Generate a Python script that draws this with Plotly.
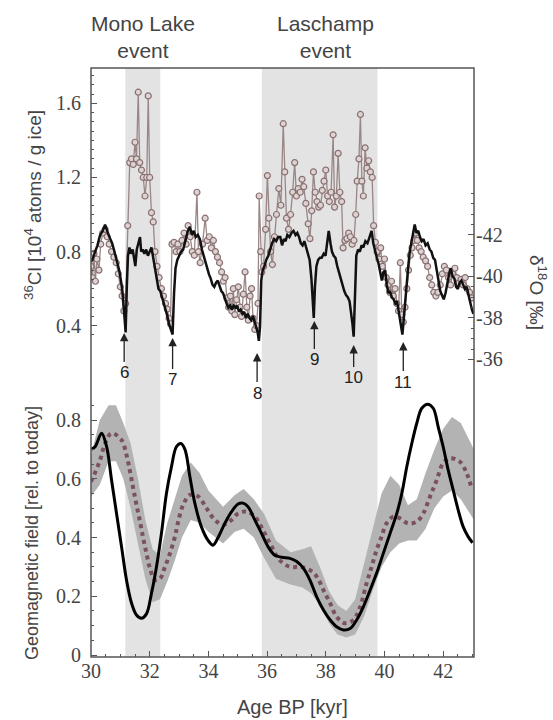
import plotly.graph_objects as go

# ---------------- data ----------------
# 36Cl flux (upper panel, left axis)
cl_age = [30.00,30.05,30.10,30.15,30.20,30.27,30.33,30.40,30.48,30.55,30.62,30.70,30.78,30.86,30.93,31.00,31.06,31.12,31.18,
          31.25,31.32,31.38,31.44,31.50,31.55,31.61,31.66,31.72,31.78,31.84,31.90,31.95,32.00,32.06,32.12,32.18,32.25,32.32,
          32.40,32.47,32.54,32.60,32.66,32.71,32.76,32.83,32.90,32.96,33.03,33.10,33.17,33.24,33.31,33.38,33.45,33.52,33.61,
          33.66,33.72,33.80,33.89,33.96,34.03,34.10,34.17,34.24,34.31,34.38,34.45,34.51,34.57,34.63,34.69,34.75,34.80,34.85,
          34.90,34.96,35.02,35.08,35.13,35.19,35.25,35.31,35.36,35.42,35.47,35.52,35.58,35.64,35.69,35.73,35.78,35.82,35.88,
          35.95,36.01,36.06,36.12,36.18,36.25,36.32,36.40,36.47,36.55,36.60,36.66,36.73,36.80,36.87,36.94,37.00,37.06,37.13,
          37.19,37.25,37.32,37.40,37.46,37.52,37.58,37.64,37.70,37.76,37.82,37.88,37.94,38.00,38.06,38.12,38.18,38.25,38.30,
          38.36,38.42,38.48,38.54,38.59,38.65,38.72,38.78,38.84,38.90,38.96,39.02,39.07,39.13,39.18,39.23,39.28,39.34,39.40,
          39.46,39.52,39.58,39.63,39.69,39.75,39.81,39.87,39.93,40.00,40.06,40.12,40.18,40.24,40.30,40.36,40.42,40.48,40.54,
          40.59,40.64,40.70,40.76,40.82,40.88,40.94,41.00,41.06,41.12,41.18,41.25,41.32,41.40,41.47,41.54,41.61,41.68,41.75,
          41.82,41.90,41.97,42.04,42.11,42.18,42.25,42.32,42.40,42.47,42.54,42.61,42.68,42.75,42.82,42.90,42.97]
cl_val = [0.72,0.66,0.79,0.64,0.76,0.70,0.84,0.90,0.92,0.88,0.84,0.80,0.77,0.74,0.68,0.61,0.56,0.48,0.52,
          0.94,1.28,1.30,1.27,1.39,1.30,1.66,1.28,1.24,1.20,1.10,1.20,1.64,1.20,1.01,0.96,0.80,0.72,0.66,
          0.60,0.56,0.52,0.49,0.44,0.41,0.84,0.85,0.80,0.84,0.80,0.86,0.90,0.84,0.94,0.88,0.80,0.78,1.12,
          0.80,0.74,0.84,0.98,0.86,0.88,0.82,0.86,0.80,0.77,0.74,0.69,0.64,0.66,0.55,0.50,0.56,0.48,0.60,
          0.46,0.54,0.61,0.50,0.45,0.57,0.69,0.50,0.43,0.56,0.60,0.44,0.38,0.40,0.52,1.10,0.80,0.69,0.72,
          0.92,1.21,0.98,0.80,0.73,0.88,1.00,1.14,1.05,1.49,1.23,0.98,0.92,1.00,1.12,1.28,1.10,1.14,1.12,
          1.19,1.15,1.06,0.95,0.87,1.02,1.23,1.12,1.07,1.04,1.05,1.13,1.18,1.24,1.10,1.07,1.12,1.43,1.04,
          1.10,1.33,1.12,1.07,0.82,0.86,0.87,0.90,0.88,0.84,0.86,1.00,1.18,1.30,1.54,1.18,1.10,1.36,1.25,
          1.29,1.23,1.20,0.94,0.85,0.80,0.76,0.82,0.72,0.76,0.66,0.62,0.58,0.64,0.56,0.60,0.52,0.48,0.74,
          0.46,0.42,0.50,0.60,0.70,0.78,0.82,0.86,0.90,0.86,0.82,0.80,0.77,0.75,0.72,0.66,0.62,0.58,0.56,
          0.58,0.62,0.68,0.72,0.70,0.66,0.62,0.68,0.71,0.66,0.63,0.65,0.62,0.66,0.60,0.58,0.55]

# delta 18O (upper panel, right axis, reversed)
d18_age = [30.00,30.07,30.14,30.22,30.31,30.40,30.48,30.54,30.60,30.66,30.72,30.78,30.84,30.90,30.96,31.02,31.07,31.11,31.15,
           31.18,31.22,31.26,31.31,31.36,31.42,31.47,31.51,31.56,31.61,31.67,31.71,31.76,31.82,31.88,31.94,32.00,32.06,32.12,
           32.18,32.24,32.30,32.36,32.42,32.48,32.54,32.60,32.66,32.72,32.78,32.83,32.88,32.94,33.00,33.07,33.14,33.22,33.30,
           33.37,33.44,33.50,33.57,33.64,33.71,33.78,33.84,33.90,33.96,34.02,34.08,34.14,34.20,34.26,34.32,34.38,34.44,34.50,
           34.56,34.62,34.68,34.74,34.80,34.86,34.92,34.98,35.04,35.10,35.16,35.22,35.28,35.34,35.40,35.46,35.52,35.58,35.63,
           35.68,35.72,35.76,35.80,35.85,35.91,35.97,36.04,36.10,36.17,36.24,36.31,36.38,36.45,36.51,36.57,36.63,36.69,36.76,
           36.83,36.90,36.97,37.03,37.09,37.15,37.21,37.27,37.33,37.39,37.45,37.51,37.55,37.59,37.63,37.68,37.74,37.80,37.86,
           37.93,37.99,38.05,38.10,38.16,38.21,38.27,38.33,38.39,38.45,38.51,38.57,38.63,38.69,38.75,38.81,38.86,38.91,38.95,
           38.99,39.04,39.10,39.16,39.22,39.28,39.35,39.42,39.49,39.56,39.62,39.68,39.74,39.80,39.86,39.91,39.96,40.02,40.08,
           40.13,40.19,40.25,40.31,40.37,40.43,40.48,40.53,40.57,40.61,40.66,40.71,40.76,40.81,40.86,40.92,40.97,41.03,41.09,
           41.15,41.21,41.27,41.33,41.40,41.47,41.54,41.60,41.66,41.72,41.78,41.84,41.90,41.96,42.02,42.08,42.14,42.20,42.26,
           42.32,42.38,42.44,42.50,42.56,42.62,42.68,42.74,42.80,42.86,42.92,42.98,43.03]
d18_val = [-40.7,-40.9,-41.2,-41.5,-42.0,-42.2,-42.5,-42.2,-42.0,-41.8,-41.6,-41.3,-41.0,-40.6,-40.3,-39.8,-39.3,-38.6,-37.6,
           -37.3,-39.5,-41.0,-41.4,-41.1,-41.3,-40.9,-40.5,-41.3,-41.6,-41.9,-41.2,-41.3,-41.1,-41.3,-41.0,-41.2,-41.4,-40.9,
           -40.4,-39.8,-39.4,-39.3,-39.0,-38.8,-38.5,-38.1,-37.7,-37.4,-37.2,-39.2,-40.4,-40.8,-41.0,-41.2,-41.3,-41.8,-42.2,
           -42.4,-42.0,-42.2,-41.9,-42.0,-41.8,-41.3,-41.0,-40.6,-40.3,-40.1,-39.9,-39.6,-39.5,-39.7,-39.8,-39.5,-39.3,-39.2,
           -38.9,-38.7,-38.5,-38.6,-38.4,-38.6,-38.5,-38.6,-38.3,-38.4,-38.2,-38.3,-38.0,-38.2,-38.0,-37.9,-38.1,-37.8,-37.5,
           -37.3,-36.9,-37.6,-39.8,-40.3,-40.5,-40.8,-41.0,-41.3,-41.6,-41.8,-41.7,-41.9,-41.9,-41.5,-41.8,-41.7,-42.0,-41.9,
           -42.1,-42.2,-42.0,-42.1,-41.9,-41.6,-41.5,-41.7,-41.4,-41.1,-40.8,-39.9,-38.9,-38.0,-39.5,-40.5,-40.8,-40.9,-40.9,
           -41.1,-41.0,-41.6,-42.2,-41.6,-41.2,-41.0,-40.9,-40.5,-40.2,-39.8,-39.6,-39.3,-39.1,-39.0,-38.8,-38.3,-37.7,-37.1,
           -39.5,-41.0,-41.3,-41.2,-41.5,-41.4,-41.7,-41.6,-41.9,-42.2,-41.6,-41.2,-40.9,-40.6,-40.1,-39.8,-40.2,-40.3,-39.6,
           -39.2,-39.3,-39.0,-38.9,-38.7,-38.8,-38.4,-38.0,-37.5,-37.2,-38.0,-39.0,-39.6,-40.5,-41.2,-41.7,-41.9,-42.5,-42.1,
           -42.2,-41.9,-41.7,-41.8,-41.5,-41.6,-41.3,-41.2,-40.9,-40.8,-40.3,-39.8,-39.3,-39.1,-38.9,-39.2,-39.7,-40.1,-40.4,
           -40.0,-39.9,-39.5,-39.4,-39.7,-39.8,-39.6,-39.4,-39.5,-39.1,-38.8,-38.4,-38.2]

# numbered arrows (age, delta18O at tip, label offset px)
arrow_num = ["6", "7", "8", "9", "10", "11"]
arrow_age = [31.13, 32.78, 35.66, 37.61, 38.95, 40.64]
arrow_tip = [-37.28, -37.04, -36.31, -37.86, -36.70, -36.84]
arrow_off = [40, 42, 40, 39, 33, 40]

# geomagnetic field (lower panel)
gf_age = [30.00,30.14,30.36,30.53,30.70,30.87,31.04,31.21,31.38,31.55,31.72,31.89,32.06,32.23,32.40,32.57,32.74,32.91,33.06,
          33.20,33.37,33.54,33.76,33.99,34.16,34.33,34.56,34.79,35.01,35.18,35.35,35.58,35.81,36.03,36.26,36.50,36.78,37.01,
          37.24,37.46,37.69,37.92,38.15,38.37,38.60,38.83,39.05,39.28,39.51,39.73,39.96,40.19,40.42,40.59,40.76,40.93,41.10,
          41.27,41.47,41.66,41.83,42.00,42.17,42.34,42.51,42.68,42.85,43.00]
gf_val = [0.70,0.709,0.755,0.71,0.596,0.482,0.369,0.255,0.177,0.136,0.125,0.14,0.21,0.30,0.414,0.55,0.64,0.709,0.72,
          0.70,0.607,0.516,0.437,0.39,0.374,0.40,0.448,0.488,0.514,0.517,0.505,0.46,0.414,0.369,0.34,0.333,0.329,0.318,
          0.295,0.255,0.198,0.153,0.119,0.096,0.085,0.09,0.119,0.164,0.221,0.278,0.346,0.414,0.482,0.55,0.641,0.72,0.789,
          0.84,0.854,0.84,0.777,0.709,0.63,0.562,0.494,0.437,0.403,0.382]

# model mean (dashed) and its uncertainty band
mod_age = [30.00,30.08,30.31,30.48,30.70,31.04,31.21,31.33,31.44,31.55,31.67,31.78,31.89,32.01,32.18,32.35,32.52,32.69,32.86,
           32.97,33.14,33.37,33.65,33.94,34.22,34.50,34.79,35.01,35.30,35.58,35.86,36.15,36.43,36.78,37.12,37.46,37.69,37.92,
           38.15,38.37,38.66,38.94,39.17,39.39,39.56,39.73,39.90,40.07,40.30,40.53,40.81,41.10,41.32,41.55,41.78,42.00,42.23,
           42.57,42.80,42.97]
mod_val = [0.59,0.607,0.664,0.72,0.755,0.732,0.681,0.624,0.567,0.511,0.454,0.397,0.346,0.295,0.255,0.26,0.30,0.346,0.403,
           0.454,0.511,0.545,0.54,0.499,0.46,0.443,0.46,0.482,0.488,0.471,0.425,0.37,0.323,0.30,0.30,0.289,0.267,0.221,
           0.176,0.13,0.108,0.119,0.164,0.244,0.30,0.357,0.403,0.448,0.471,0.465,0.448,0.454,0.482,0.539,0.596,0.653,0.67,
           0.658,0.619,0.567]
band_age = [30.00,30.30,30.60,30.85,31.10,31.35,31.60,31.85,32.10,32.35,32.60,32.85,33.10,33.40,33.70,34.00,34.50,34.90,35.20,
            35.55,35.90,36.30,36.80,37.20,37.50,37.80,38.10,38.40,38.70,39.00,39.30,39.60,39.90,40.20,40.50,40.80,41.10,41.40,
            41.70,42.00,42.30,42.60,42.80,43.05]
band_lo = [0.54,0.58,0.66,0.66,0.60,0.50,0.38,0.26,0.18,0.19,0.25,0.32,0.40,0.46,0.45,0.42,0.38,0.42,0.43,
           0.40,0.33,0.26,0.24,0.23,0.21,0.17,0.11,0.07,0.06,0.07,0.13,0.22,0.30,0.35,0.38,0.39,0.39,0.43,
           0.50,0.54,0.56,0.53,0.50,0.46]
band_hi = [0.68,0.80,0.85,0.85,0.79,0.72,0.60,0.46,0.36,0.34,0.45,0.53,0.61,0.655,0.62,0.56,0.505,0.545,0.565,
           0.53,0.48,0.39,0.35,0.36,0.37,0.30,0.22,0.17,0.15,0.19,0.31,0.43,0.55,0.61,0.58,0.51,0.53,0.62,
           0.70,0.77,0.81,0.79,0.75,0.70]

events = [("Mono Lake<br>event", 31.17, 32.36, 31.77), ("Laschamp<br>event", 35.82, 39.76, 38.0)]

# ---------------- figure ----------------
SERIF = "Liberation Serif"
SANS = "Liberation Sans"
TXT = "#444444"

fig = go.Figure()

fig.add_trace(go.Scatter(
    x=band_age + band_age[::-1], y=band_hi + band_lo[::-1],
    fill="toself", fillcolor="#b3b3b3", line=dict(width=0), mode="lines",
    hoverinfo="skip", showlegend=False, yaxis="y"))
fig.add_trace(go.Scatter(
    x=mod_age, y=mod_val, mode="lines", line=dict(color="#7b5060", width=4, dash="4px,4px", shape="spline"),
    showlegend=False, yaxis="y"))
fig.add_trace(go.Scatter(
    x=gf_age, y=gf_val, mode="lines", line=dict(color="#000000", width=3, shape="spline"),
    showlegend=False, yaxis="y"))

fig.add_trace(go.Scatter(
    x=cl_age, y=cl_val, mode="lines+markers",
    line=dict(color="#9a8686", width=1.3),
    marker=dict(symbol="circle", size=6, color="#ddd3d3", line=dict(color="#8a7070", width=1.2)),
    showlegend=False, yaxis="y2"))
fig.add_trace(go.Scatter(
    x=d18_age, y=d18_val, mode="lines", line=dict(color="#111111", width=2.5),
    showlegend=False, yaxis="y3"))

shapes = []
for name, a0, a1, xc in events:
    shapes.append(dict(type="rect", xref="x", yref="paper", x0=a0, x1=a1, y0=0, y1=1,
                       fillcolor="#e3e3e3", line=dict(width=0), layer="below"))
shapes.append(dict(type="rect", xref="paper", yref="paper", x0=0, x1=1, y0=0, y1=1,
                   line=dict(color="#555555", width=1.5), layer="above"))

annotations = []
for name, a0, a1, xc in events:
    annotations.append(dict(text=name, x=xc, xref="x", y=1.052, yref="paper", showarrow=False,
                            font=dict(family=SANS, size=21, color=TXT), yanchor="middle", xanchor="center"))
for n, a, t, o in zip(arrow_num, arrow_age, arrow_tip, arrow_off):
    annotations.append(dict(text=n, x=a, y=t, xref="x", yref="y3", showarrow=True, ax=0, ay=o,
                            arrowhead=2, arrowsize=1.3, arrowwidth=1.3, arrowcolor="#222222", standoff=0,
                            font=dict(family=SANS, size=17, color="#222222")))
annotations += [
    dict(text="<sup>36</sup>Cl [10<sup>4</sup> atoms / g ice]", x=-0.1514, y=0.7674, xref="paper", yref="paper",
         xanchor="center", yanchor="middle",
         textangle=-90, showarrow=False, font=dict(family=SANS, size=19, color=TXT)),
    dict(text="Geomagnetic field [rel. to today]", x=-0.154, y=0.2105, xref="paper", yref="paper",
         xanchor="center", yanchor="middle",
         textangle=-90, showarrow=False, font=dict(family=SANS, size=18, color=TXT)),
    dict(text="δ<sup>18</sup>O [‰]", x=1.167, y=0.618, xref="paper", yref="paper",
         xanchor="center", yanchor="middle",
         textangle=90, showarrow=False, font=dict(family=SANS, size=19, color=TXT)),
    dict(text="Age BP [kyr]", x=0.527, y=-0.0849, xref="paper", yref="paper",
         xanchor="center", yanchor="middle",
         showarrow=False, font=dict(family=SANS, size=20, color=TXT)),
]

tickfont = dict(family=SERIF, size=20, color=TXT)
fig.update_layout(
    width=553, height=720,
    margin=dict(l=91, r=79, t=68, b=63),
    paper_bgcolor="white", plot_bgcolor="rgba(0,0,0,0)",
    shapes=shapes, annotations=annotations,
    xaxis=dict(range=[30, 43.05], tickmode="array", tickvals=[30, 32, 34, 36, 38, 40, 42],
               ticks="inside", ticklen=6, tickcolor="#555", showgrid=False, zeroline=False, showline=False,
               tickfont=tickfont, minor=dict(dtick=0.5, tick0=0, ticks="inside", ticklen=3, tickcolor="#555"),
               anchor="y"),
    yaxis=dict(domain=[0, 0.4397], range=[-0.0068, 0.8749], dtick=0.2, tick0=0,
               ticks="inside", ticklen=6, tickcolor="#555", showgrid=False, zeroline=False, showline=False,
               tickfont=tickfont, ticklabelstandoff=9,
               minor=dict(dtick=0.05, tick0=0, ticks="inside", ticklen=3, tickcolor="#555"), anchor="x"),
    yaxis2=dict(domain=[0.5297, 1], range=[0.2959, 1.7905], dtick=0.4, tick0=0, tickformat=".1f",
                ticks="inside", ticklen=6, tickcolor="#555", showgrid=False, zeroline=False, showline=False,
                tickfont=tickfont, ticklabelstandoff=9,
                minor=dict(dtick=0.05, tick0=0, ticks="inside", ticklen=3, tickcolor="#555"), anchor="x"),
    yaxis3=dict(domain=[0.4907, 0.7963], range=[-35.59, -44.265], side="right",
                tickmode="array", tickvals=[-42, -40, -38, -36], ticktext=["-42", "-40", "-38", "-36"],
                ticks="inside", ticklen=6, tickcolor="#555", showgrid=False, zeroline=False, showline=False,
                tickfont=tickfont, ticklabelstandoff=1,
                minor=dict(dtick=0.5, tick0=0, ticks="inside", ticklen=3, tickcolor="#555"), anchor="x"),
)

fig.write_html("out.html", config={"displayModeBar": False},
               post_script="document.body.style.margin='0px';document.body.style.overflow='hidden';")
